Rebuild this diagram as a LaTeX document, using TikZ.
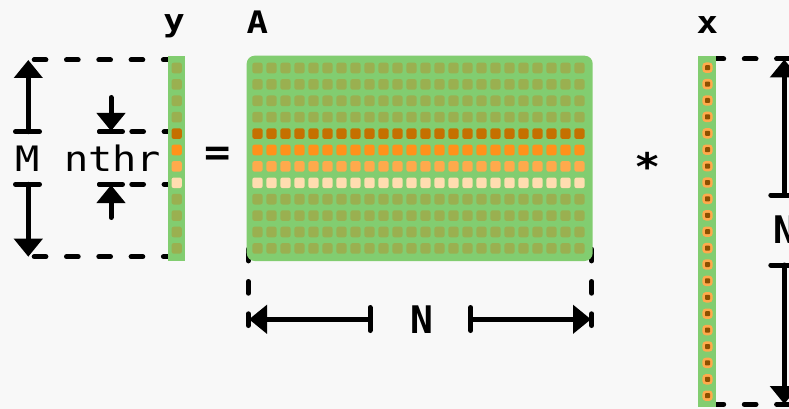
\documentclass[tikz,border=0pt]{standalone}
\usepackage{fontspec}
\newfontfamily\dimfont[FakeStretch=1.15]{DejaVu Sans Mono}
\newfontfamily\lblfont[FakeStretch=1.15]{DejaVu Sans Mono Bold}
\newfontfamily\nfont{DejaVu Sans Mono Bold}
\usetikzlibrary{arrows.meta}
\definecolor{bg}{RGB}{248,248,248}
\definecolor{mgreen}{RGB}{130,205,112}
\definecolor{cellg}{RGB}{154,176,80}
\definecolor{oa}{RGB}{197,112,0}
\definecolor{ob}{RGB}{255,146,26}
\definecolor{oc}{RGB}{255,170,76}
\definecolor{od}{RGB}{255,221,176}
\definecolor{xin}{RGB}{140,80,0}
\begin{document}
\begin{tikzpicture}[x=1pt,y=-1pt,
  dimline/.style={line width=5pt, line cap=round},
  dashline/.style={line width=5pt, line cap=round, dash pattern=on 11.7pt off 20.6pt},
  arr/.style={dimline, -{Triangle[width=28pt,length=18pt]}},
  lbl/.style={font=\lblfont\fontsize{31}{31}\selectfont, inner sep=0pt, anchor=base},
  dimtxt/.style={font=\dimfont\fontsize{35}{35}\selectfont, inner sep=0pt, anchor=base},
  ntxt/.style={font=\nfont\fontsize{38}{38}\selectfont, inner sep=0pt, anchor=base},
  optxt/.style={font=\lblfont\fontsize{38}{38}\selectfont, inner sep=0pt}
]
\fill[bg] (0,0) rectangle (789,409);
\clip (0,0) rectangle (789,409);
\useasboundingbox (0,0) rectangle (789,409);

% ---- coordinates
\coordinate (yTopL) at (34.2,60);   \coordinate (yTopR) at (168,60);
\coordinate (yBotL) at (34.2,256.7); \coordinate (yBotR) at (168,256.7);
\coordinate (tTopL) at (99.5,131.7); \coordinate (tTopR) at (168,131.7);
\coordinate (tBotL) at (99.5,184.3); \coordinate (tBotR) at (168,184.3);
\coordinate (aLb) at (248.3,325.5); \coordinate (aLt) at (248.3,247.9);
\coordinate (aRb) at (591.7,325.5); \coordinate (aRt) at (591.7,247.9);
\coordinate (xTopL) at (712,59);   \coordinate (xTopR) at (800,59);
\coordinate (xBotL) at (712,404.3); \coordinate (xBotR) at (800,404.3);

% ---- dashed extension lines
\draw[dashline] (yTopL) -- (yTopR);
\draw[dashline] (yBotL) -- (yBotR);
\draw[dashline] (tTopL) -- (tTopR);
\draw[dashline] (tBotL) -- (tBotR);
\draw[dashline] (aLb) -- (aLt);
\draw[dashline] (aRb) -- (aRt);
\draw[dashline] (xTopL) -- (xTopR);
\draw[dashline] (xBotL) -- (xBotR);

% ---- M dimension
\coordinate (mb1a) at (15.5,131.7); \coordinate (mb1b) at (39.5,131.7);
\coordinate (mb2a) at (15.5,184.3); \coordinate (mb2b) at (39.5,184.3);
\draw[dimline] (mb1a) -- (mb1b);
\draw[dimline] (mb2a) -- (mb2b);
\draw[arr] (28.3,131.7) -- (28.3,60);
\draw[arr] (28.3,184.3) -- (28.3,256.7);
\node[dimtxt] (mlab) at (27.5,171.7) {M};

% ---- nthr dimension
\draw[dimline] (tTopL) -- (122.5,131.7);
\draw[dimline] (tBotL) -- (122.5,184.3);
\draw[arr] (111,97.5) -- (111,131);
\draw[arr] (111,217.5) -- (111,185);
\node[dimtxt] (nthr) at (112.5,171.7) {nthr};

% ---- N dimension (bottom)
\draw[dimline] (370,307.5) -- (370,330.5);
\draw[dimline] (470.7,307.5) -- (470.7,330.5);
\draw[arr] (370,319.3) -- (249,319.3);
\draw[arr] (470.7,319.3) -- (591,319.3);
\node[ntxt] (nlab) at (421.7,333.3) {N};

% ---- N dimension (right, cropped as in the reference)
\draw[dimline] (770.8,195) -- (797.8,195);
\draw[dimline] (770.8,265) -- (797.8,265);
\draw[arr] (784.3,195) -- (784.3,59.5);
\draw[arr] (784.3,265) -- (784.3,404);
\node[ntxt] (nlab2) at (785,243.3) {N};

% ---- vector y
\fill[mgreen] (168.3,56) rectangle (185,261);
\foreach \r/\col in {0/cellg,1/cellg,2/cellg,3/cellg,4/oa,5/ob,6/oc,7/od,8/cellg,9/cellg,10/cellg,11/cellg}{
  \fill[\col, rounded corners=2.2pt] ({176.7-5.15},{68+16.4*\r-5.3}) rectangle ++(10.3,10.6);
}

% ---- matrix A
\fill[mgreen, rounded corners=8pt] (246.7,55.7) rectangle (592.7,261);
\foreach \r/\col in {0/cellg,1/cellg,2/cellg,3/cellg,4/oa,5/ob,6/oc,7/od,8/cellg,9/cellg,10/cellg,11/cellg}{
  \foreach \c in {0,...,23}{
    \fill[\col, rounded corners=2.2pt] ({257.5+14*\c-5.15},{68+16.4*\r-5.3}) rectangle ++(10.3,10.6);
  }
}

% ---- vector x
\fill[mgreen] (698.3,56) rectangle (715.7,407);
\foreach \i in {0,...,20}{
  \fill[oc, rounded corners=3.5pt] ({707.5-5.2},{67.7+16.4*\i-5.2}) rectangle ++(10.4,10.4);
  \fill[xin, rounded corners=0.8pt] ({707.5-2.5},{67.7+16.4*\i-2.5}) rectangle ++(5,5);
}

% ---- labels and operators
\node[lbl] (ylab) at (174,32) {y};
\node[lbl] (alab) at (257.3,33.3) {A};
\node[lbl] (xlab) at (707.3,33.3) {x};
\node[optxt] (eq) at (218,156.7) {=};
\node[optxt] (star) at (647.5,166.7) {*};
\end{tikzpicture}
\end{document}
